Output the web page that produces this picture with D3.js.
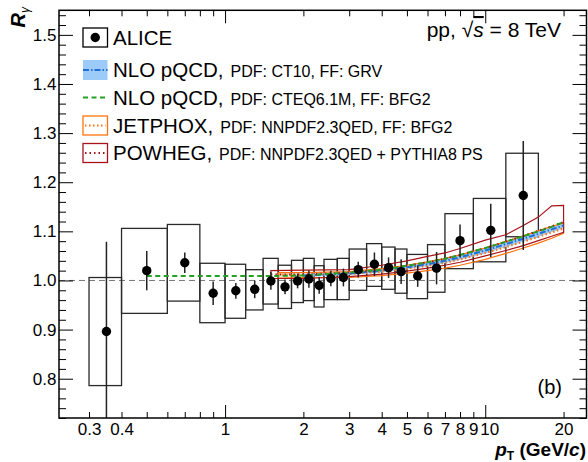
<!DOCTYPE html>
<html>
<head>
<meta charset="utf-8">
<title>R gamma, pp 8 TeV</title>
<script src="https://cdn.jsdelivr.net/npm/d3@7"></script>
<style>
    body { margin: 0; background: white; }
    svg { font-family: "Liberation Sans", Arial, sans-serif; background: white; }
</style>
</head>
<body>
<svg id="chart" width="588" height="462"></svg>
<script>
// ALICE data points (pT bins, R_gamma, stat errors, syst boxes)
var ptLow   = [0.3, 0.4, 0.6, 0.8, 1.0, 1.2, 1.4, 1.6, 1.8, 2.0, 2.2, 2.4, 2.7, 3.0, 3.5, 4.0, 4.5, 5.0, 6.0, 7.0, 9.0, 12.0];
var ptHigh  = [0.4, 0.6, 0.8, 1.0, 1.2, 1.4, 1.6, 1.8, 2.0, 2.2, 2.4, 2.7, 3.0, 3.5, 4.0, 4.5, 5.0, 6.0, 7.0, 9.0, 12.0, 16.0];
var ptPoint = [0.35, 0.5, 0.7, 0.9, 1.1, 1.3, 1.5, 1.7, 1.9, 2.1, 2.3, 2.55, 2.85, 3.25, 3.75, 4.25, 4.75, 5.5, 6.5, 8.0, 10.5, 14.0];
var rGamma  = [0.896, 1.020, 1.036, 0.974, 0.979, 0.982, 0.999, 0.987, 0.999, 1.003, 0.990, 1.004, 1.006, 1.022, 1.033, 1.026, 1.018, 1.009, 1.025, 1.081, 1.102, 1.173];
var statErr = [0.183, 0.040, 0.021, 0.024, 0.016, 0.018, 0.018, 0.015, 0.015, 0.018, 0.017, 0.016, 0.018, 0.016, 0.024, 0.021, 0.025, 0.022, 0.033, 0.033, 0.054, 0.111];
var sysLow  = [0.786, 0.933, 0.958, 0.914, 0.923, 0.940, 0.952, 0.943, 0.955, 0.959, 0.946, 0.961, 0.961, 0.980, 0.988, 0.982, 0.974, 0.963, 0.976, 1.024, 1.038, 1.089];
var sysHigh = [1.006, 1.106, 1.114, 1.035, 1.033, 1.022, 1.045, 1.031, 1.041, 1.045, 1.030, 1.043, 1.045, 1.064, 1.075, 1.068, 1.064, 1.053, 1.073, 1.136, 1.167, 1.259];

// NLO pQCD, CT10 + GRV (band + central)
var ct10Pt = [2, 3, 4, 5, 6, 7, 8, 10, 12, 14, 16, 18, 20];
var ct10R  = [1.010, 1.014, 1.020, 1.027, 1.033, 1.040, 1.047, 1.061, 1.074, 1.085, 1.095, 1.104, 1.112];
var ct10Lo = [1.007, 1.011, 1.016, 1.023, 1.029, 1.035, 1.042, 1.055, 1.068, 1.079, 1.089, 1.098, 1.106];
var ct10Hi = [1.013, 1.017, 1.023, 1.030, 1.037, 1.044, 1.051, 1.066, 1.079, 1.090, 1.100, 1.110, 1.118];

// NLO pQCD, CTEQ6.1M + BFG2 (central only)
var cteqPt = [0.5, 1, 1.5, 2, 3, 4, 5, 6, 7, 8, 10, 12, 14, 16, 18, 20];
var cteqR  = [1.009, 1.009, 1.009, 1.010, 1.016, 1.022, 1.030, 1.037, 1.044, 1.052, 1.066, 1.079, 1.090, 1.100, 1.109, 1.119];

// JETPHOX
var jetPt = [1.6, 2, 3, 4, 5, 6, 7, 8, 10, 12, 14, 16, 18, 20];
var jetR  = [1.012, 1.011, 1.013, 1.018, 1.024, 1.030, 1.036, 1.043, 1.056, 1.068, 1.079, 1.089, 1.098, 1.106];
var jetLo = [1.007, 1.006, 1.006, 1.010, 1.015, 1.020, 1.025, 1.031, 1.043, 1.055, 1.066, 1.076, 1.086, 1.096];
var jetHi = [1.016, 1.016, 1.018, 1.024, 1.031, 1.038, 1.045, 1.052, 1.066, 1.079, 1.091, 1.101, 1.110, 1.117];

// POWHEG + PYTHIA8
var powPt = [1.5, 2, 3, 4, 5, 6, 7, 8, 10, 12, 14, 16, 18, 20];
var powR  = [1.012, 1.012, 1.016, 1.022, 1.030, 1.037, 1.044, 1.052, 1.066, 1.079, 1.090, 1.101, 1.110, 1.119];
var powLo = [1.004, 1.004, 1.008, 1.013, 1.019, 1.025, 1.031, 1.037, 1.050, 1.061, 1.071, 1.081, 1.090, 1.098];
var powHi = [1.020, 1.021, 1.022, 1.031, 1.040, 1.049, 1.056, 1.065, 1.082, 1.093, 1.112, 1.129, 1.152, 1.153];

// tick labels
var yMajor = [0.8, 0.9, 1.0, 1.1, 1.2, 1.3, 1.4, 1.5];
var xMajor = [1, 10];
var xLabelled = [0.3, 0.4, 2, 3, 4, 5, 6, 7, 8, 9, 20];
var xPlain = [0.5, 0.6, 0.7, 0.8, 0.9];

// legend texts
var legendMain  = ['ALICE', 'NLO pQCD,', 'NLO pQCD,', 'JETPHOX,', 'POWHEG,'];
var legendSmall = ['', 'PDF: CT10, FF: GRV', 'PDF: CTEQ6.1M, FF: BFG2', 'PDF: NNPDF2.3QED, FF: BFG2', 'PDF: NNPDF2.3QED + PYTHIA8 PS'];

var colBlue = '#1f6fd6', colBand = '#9ccbfa', colGreen = '#23a123', colOrange = '#ff7410', colRed = '#a8141a';

var svg = d3.select('#chart');
var x = d3.scaleLog().domain([0.23, 24.5]).range([59, 586.5]);
var y = d3.scaleLinear().domain([0.72, 1.55]).range([418, 10.3]);
var x0 = x.range()[0], x1 = x.range()[1], yb = y.range()[0], yt = y.range()[1];

svg.append('defs').append('clipPath').attr('id', 'clip')
    .append('rect').attr('x', x0).attr('y', yt).attr('width', x1 - x0).attr('height', yb - yt);

var plot = svg.append('g').attr('clip-path', 'url(#clip)');

// reference line at 1
plot.append('line')
    .attr('x1', x0).attr('x2', x1).attr('y1', y(1)).attr('y2', y(1))
    .attr('stroke', '#777').attr('stroke-width', 1).attr('stroke-dasharray', '6,4');

// syst boxes
plot.selectAll('rect.sys').data(rGamma).enter().append('rect')
    .attr('class', 'sys')
    .attr('x', (d, i) => x(ptLow[i]))
    .attr('width', (d, i) => x(ptHigh[i]) - x(ptLow[i]))
    .attr('y', (d, i) => y(sysHigh[i]))
    .attr('height', (d, i) => y(sysLow[i]) - y(sysHigh[i]))
    .attr('fill', 'none').attr('stroke', '#2a2a2a').attr('stroke-width', 1.3);

function zip(xs, ys) { return xs.map((v, i) => [v, ys[i]]); }
function zip3(xs, lo, hi) { return xs.map((v, i) => [v, lo[i], hi[i]]); }
var line = d3.line().x(d => x(d[0])).y(d => y(d[1]));
var band = d3.area().x(d => x(d[0])).y0(d => y(d[1])).y1(d => y(d[2]));

// theory
plot.append('path').attr('d', band(zip3(ct10Pt, ct10Lo, ct10Hi))).attr('fill', colBand);
plot.append('path').attr('d', band(zip3(jetPt, jetLo, jetHi)))
    .attr('fill', 'none').attr('stroke', colOrange).attr('stroke-width', 1.2);
plot.append('path').attr('d', band(zip3(powPt, powLo, powHi)))
    .attr('fill', 'none').attr('stroke', colRed).attr('stroke-width', 1.2);
plot.append('path').attr('d', line(zip(jetPt, jetR)))
    .attr('fill', 'none').attr('stroke', colOrange).attr('stroke-width', 2.2).attr('stroke-dasharray', '1.5,2.5');
plot.append('path').attr('d', line(zip(ct10Pt, ct10R)))
    .attr('fill', 'none').attr('stroke', colBlue).attr('stroke-width', 2).attr('stroke-dasharray', '6,2,1.5,2');
plot.append('path').attr('d', line(zip(powPt, powR)))
    .attr('fill', 'none').attr('stroke', colRed).attr('stroke-width', 2).attr('stroke-dasharray', '1.5,3');
plot.append('path').attr('d', line(zip(cteqPt, cteqR)))
    .attr('fill', 'none').attr('stroke', colGreen).attr('stroke-width', 2).attr('stroke-dasharray', '5,3.5');

// stat errors + points
plot.selectAll('line.err').data(rGamma).enter().append('line')
    .attr('x1', (d, i) => x(ptPoint[i])).attr('x2', (d, i) => x(ptPoint[i]))
    .attr('y1', (d, i) => y(d - statErr[i])).attr('y2', (d, i) => y(d + statErr[i]))
    .attr('stroke', '#222').attr('stroke-width', 1.5);
plot.selectAll('circle').data(rGamma).enter().append('circle')
    .attr('cx', (d, i) => x(ptPoint[i])).attr('cy', d => y(d))
    .attr('r', 4.7).attr('fill', 'black');

// axes (ticks inside, ROOT style)
function styleAxis(g, fs) {
    g.select('.domain').remove();
    g.selectAll('line').attr('stroke', 'black').attr('stroke-width', 1);
    g.selectAll('text').attr('fill', 'black').style('font-size', fs + 'px')
        .style('font-family', '"Liberation Sans", Arial, sans-serif');
}
var fmt = d => String(d);
[[d3.axisBottom, yb, true], [d3.axisTop, yt, false]].forEach(function (a) {
    var g1 = svg.append('g').attr('transform', 'translate(0,' + a[1] + ')')
        .call(a[0](x).tickValues(xMajor).tickSize(-13).tickPadding(5).tickFormat(a[2] ? fmt : ''));
    var g2 = svg.append('g').attr('transform', 'translate(0,' + a[1] + ')')
        .call(a[0](x).tickValues(xLabelled).tickSize(-6).tickPadding(5).tickFormat(a[2] ? fmt : ''));
    var g3 = svg.append('g').attr('transform', 'translate(0,' + a[1] + ')')
        .call(a[0](x).tickValues(xPlain).tickSize(-6).tickFormat(''));
    [g1, g2, g3].forEach(g => styleAxis(g, 17));
    // "10" sits a little right of its tick so it does not run into "9"
    g1.selectAll('text').filter(d => d === 10).attr('dx', 4);
});
var yMinor = d3.range(0.72, 1.55, 0.02).filter(v => yMajor.every(m => Math.abs(m - v) > 1e-6));
[[d3.axisLeft, x0, true], [d3.axisRight, x1, false]].forEach(function (a) {
    var g1 = svg.append('g').attr('transform', 'translate(' + a[1] + ',0)')
        .call(a[0](y).tickValues(yMajor).tickSize(-14).tickPadding(2.5).tickFormat(a[2] ? d3.format('.1f') : ''));
    var g2 = svg.append('g').attr('transform', 'translate(' + a[1] + ',0)')
        .call(a[0](y).tickValues(yMinor).tickSize(-7).tickFormat(''));
    [g1, g2].forEach(g => styleAxis(g, 17));
});

// frame
svg.append('rect').attr('x', x0).attr('y', yt).attr('width', x1 - x0).attr('height', yb - yt)
    .attr('fill', 'none').attr('stroke', 'black').attr('stroke-width', 1.5);

// axis titles
var yt1 = svg.append('text').attr('transform', 'translate(25,7) rotate(-90)')
    .attr('text-anchor', 'end').style('font-size', '20px');
yt1.append('tspan').text('R').style('font-weight', 'bold').style('font-style', 'italic');
yt1.append('tspan').text('γ').attr('dy', 4).style('font-size', '12px').style('font-style', 'italic');

var xt = svg.append('text').attr('x', 586).attr('y', 456).attr('text-anchor', 'end')
    .style('font-size', '19px').style('font-weight', 'bold');
xt.append('tspan').text('p').style('font-style', 'italic');
xt.append('tspan').text('T').attr('dy', 4).style('font-size', '12px');
xt.append('tspan').text(' (GeV/').attr('dy', -4);
xt.append('tspan').text('c').style('font-style', 'italic');
xt.append('tspan').text(')');

// energy label
var en = svg.append('text').attr('x', 561).attr('y', 37).attr('text-anchor', 'end').style('font-size', '21px');
en.append('tspan').text('pp,  √');
en.append('tspan').text('s').style('font-style', 'italic').style('text-decoration', 'overline');
en.append('tspan').text(' = 8 TeV');

svg.append('text').attr('x', 562).attr('y', 394).attr('text-anchor', 'end')
    .style('font-size', '20px').text('(b)');

// legend
var rowY = [37.5, 70, 97.5, 125.5, 153];
var lx = 83, lw = 24.5, lh = 19;
var leg = svg.append('g');
rowY.forEach(function (cy, i) {
    var t = leg.append('text').attr('x', 113).attr('y', cy + 7).style('font-size', '20.5px');
    t.append('tspan').text(legendMain[i]);
    if (legendSmall[i]) t.append('tspan').attr('dx', 7).style('font-size', '16px').text(legendSmall[i]);
});
leg.append('rect').attr('x', lx).attr('y', rowY[0] - lh / 2).attr('width', lw).attr('height', lh)
    .attr('fill', 'none').attr('stroke', 'black').attr('stroke-width', 1.3);
leg.append('circle').attr('cx', lx + lw / 2).attr('cy', rowY[0]).attr('r', 4.7).attr('fill', 'black');
leg.append('rect').attr('x', lx).attr('y', rowY[1] - 10).attr('width', lw).attr('height', 20).attr('fill', colBand);
leg.append('line').attr('x1', lx).attr('x2', lx + lw).attr('y1', rowY[1]).attr('y2', rowY[1])
    .attr('stroke', colBlue).attr('stroke-width', 2).attr('stroke-dasharray', '6,2,1.5,2');
leg.append('line').attr('x1', lx).attr('x2', lx + lw).attr('y1', rowY[2]).attr('y2', rowY[2])
    .attr('stroke', colGreen).attr('stroke-width', 2).attr('stroke-dasharray', '5,3.5');
[[3, colOrange, '1.5,2.5'], [4, colRed, '1.5,3']].forEach(function (r) {
    leg.append('rect').attr('x', lx).attr('y', rowY[r[0]] - lh / 2).attr('width', lw).attr('height', lh)
        .attr('fill', 'none').attr('stroke', r[1]).attr('stroke-width', 1.3);
    leg.append('line').attr('x1', lx + 2).attr('x2', lx + lw - 2).attr('y1', rowY[r[0]]).attr('y2', rowY[r[0]])
        .attr('stroke', r[1]).attr('stroke-width', 2).attr('stroke-dasharray', r[2]);
});
</script>
</body>
</html>
